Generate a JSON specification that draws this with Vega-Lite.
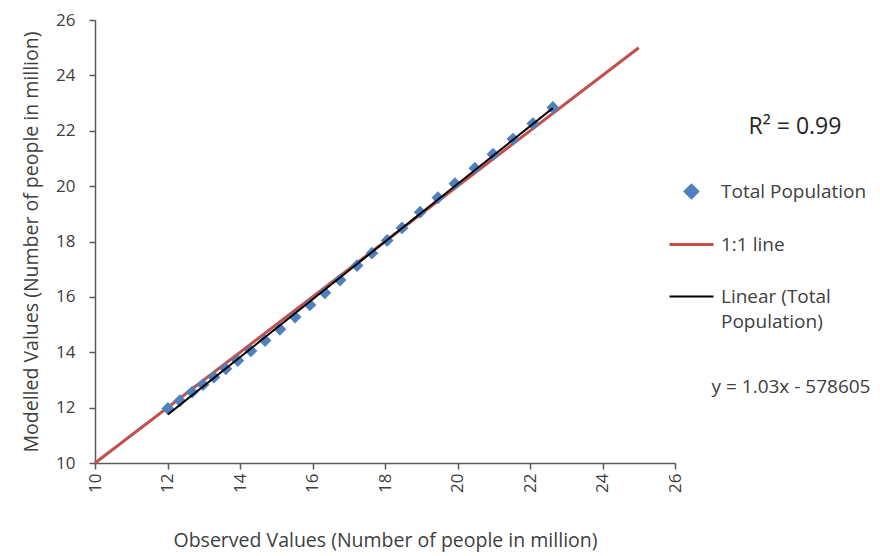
{
  "$schema": "https://vega.github.io/schema/vega-lite/v6.json",
  "width": 580,
  "height": 443,
  "autosize": {"type": "none"},
  "padding": {"left": 95, "top": 20, "right": 205, "bottom": 93},
  "background": "white",
  "config": {
    "view": {"stroke": null},
    "font": "Open Sans",
    "axis": {
      "grid": false,
      "domainColor": "#595959",
      "domainWidth": 1.5,
      "tickColor": "#595959",
      "tickWidth": 1.5,
      "tickSize": 6,
      "labelFont": "Open Sans",
      "labelFontSize": 17,
      "labelColor": "#404040",
      "titleFont": "Open Sans",
      "titleFontSize": 19.5,
      "titleFontWeight": "normal",
      "titleColor": "#404040"
    }
  },
  "datasets": {
    "pop": [
      {"observed": 12.01, "modelled": 11.97},
      {"observed": 12.34, "modelled": 12.25},
      {"observed": 12.68, "modelled": 12.56},
      {"observed": 12.98, "modelled": 12.83},
      {"observed": 13.28, "modelled": 13.10},
      {"observed": 13.61, "modelled": 13.40},
      {"observed": 13.94, "modelled": 13.70},
      {"observed": 14.30, "modelled": 14.05},
      {"observed": 14.69, "modelled": 14.42},
      {"observed": 15.10, "modelled": 14.83},
      {"observed": 15.52, "modelled": 15.27},
      {"observed": 15.93, "modelled": 15.71},
      {"observed": 16.34, "modelled": 16.15},
      {"observed": 16.76, "modelled": 16.61},
      {"observed": 17.23, "modelled": 17.13},
      {"observed": 17.64, "modelled": 17.58},
      {"observed": 18.06, "modelled": 18.04},
      {"observed": 18.47, "modelled": 18.49},
      {"observed": 18.97, "modelled": 19.06},
      {"observed": 19.46, "modelled": 19.58},
      {"observed": 19.93, "modelled": 20.09},
      {"observed": 20.48, "modelled": 20.65},
      {"observed": 20.98, "modelled": 21.15},
      {"observed": 21.53, "modelled": 21.70},
      {"observed": 22.08, "modelled": 22.26},
      {"observed": 22.63, "modelled": 22.84}
    ],
    "oneToOne": [
      {"observed": 10, "modelled": 10},
      {"observed": 25, "modelled": 25}
    ],
    "r2": [{"label": "R² = 0.99", "observed": 29.31, "modelled": 22.13}],
    "eq": [{"label": "y = 1.03x - 578605", "observed": 29.2, "modelled": 12.74}]
  },
  "encoding": {
    "x": {
      "field": "observed",
      "type": "quantitative",
      "scale": {"domain": [10, 26], "nice": false, "zero": false},
      "axis": {
        "title": "Observed Values (Number of people in million)",
        "values": [10, 12, 14, 16, 18, 20, 22, 24, 26],
        "labelAngle": -90,
        "labelPadding": 4,
        "titlePadding": 39
      }
    },
    "y": {
      "field": "modelled",
      "type": "quantitative",
      "scale": {"domain": [10, 26], "nice": false, "zero": false},
      "axis": {
        "title": "Modelled Values (Number of people in million)",
        "values": [10, 12, 14, 16, 18, 20, 22, 24, 26],
        "labelPadding": 14,
        "titlePadding": 14
      }
    }
  },
  "layer": [
    {
      "data": {"name": "oneToOne"},
      "mark": {"type": "line", "strokeWidth": 3},
      "encoding": {
        "color": {
          "datum": "1:1 line",
          "scale": {
            "domain": ["Total Population", "1:1 line", "Linear (Total Population)"],
            "range": ["#4F81BD", "#C0504D", "#000000"]
          },
          "legend": {
            "orient": "none",
            "legendX": 587,
            "legendY": 162,
            "title": null,
            "padding": 0,
            "symbolType": "stroke",
            "symbolSize": 1936,
            "symbolStrokeWidth": 2.5,
            "labelFont": "Open Sans",
            "labelFontSize": 19,
            "labelColor": "#404040",
            "labelOffset": 20,
            "rowPadding": 32,
            "labelLimit": 300,
            "labelExpr": "datum.label == 'Linear (Total Population)' ? ['Linear (Total', 'Population)'] : datum.label",
            "encode": {
              "symbols": {
                "update": {
                  "shape": {"signal": "datum.value == 'Total Population' ? 'diamond' : 'stroke'"},
                  "size": {"signal": "datum.value == 'Total Population' ? 200 : 1936"},
                  "fill": {"signal": "datum.value == 'Total Population' ? '#4F81BD' : 'transparent'"},
                  "stroke": {"signal": "datum.value == 'Total Population' ? 'transparent' : (datum.value == '1:1 line' ? '#C0504D' : '#000000')"},
                  "strokeWidth": {"signal": "datum.value == '1:1 line' ? 3 : 1.8"},
                  "opacity": {"value": 1}
                }
              },
              "labels": {
                "update": {
                  "lineHeight": {"value": 25}
                }
              }
            }
          }
        }
      }
    },
    {
      "data": {"name": "pop"},
      "mark": {"type": "point", "shape": "diamond", "filled": true, "size": 165, "opacity": 1},
      "encoding": {"color": {"datum": "Total Population"}}
    },
    {
      "data": {"name": "pop"},
      "transform": [{"regression": "modelled", "on": "observed"}],
      "mark": {"type": "line", "strokeWidth": 2},
      "encoding": {"color": {"datum": "Linear (Total Population)"}}
    },
    {
      "data": {"name": "r2"},
      "mark": {"type": "text", "fontSize": 23, "color": "#262626", "align": "center", "baseline": "middle"},
      "encoding": {"text": {"field": "label"}}
    },
    {
      "data": {"name": "eq"},
      "mark": {"type": "text", "fontSize": 19, "color": "#404040", "align": "center", "baseline": "middle"},
      "encoding": {"text": {"field": "label"}}
    }
  ]
}
